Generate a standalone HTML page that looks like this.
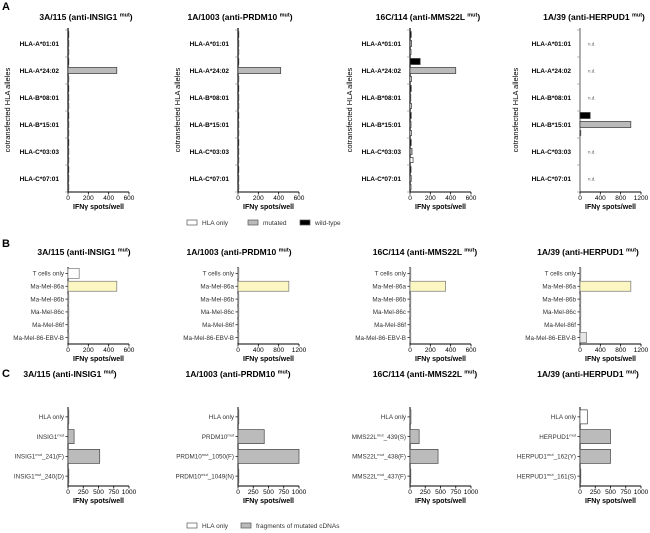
<!DOCTYPE html>
<html><head><meta charset="utf-8"><style>
body{margin:0;background:#fff}
svg{display:block;font-family:"Liberation Sans",Arial,sans-serif}
</style></head><body>
<svg id="fig" width="650" height="533" viewBox="0 0 650 533" xmlns="http://www.w3.org/2000/svg"></svg>
<script>
// ---- data ----
const titles = ["3A/115 (anti-INSIG1","1A/1003 (anti-PRDM10","16C/114 (anti-MMS22L","1A/39 (anti-HERPUD1"];
const hlaAlleles = ["HLA-A*01:01","HLA-A*24:02","HLA-B*08:01","HLA-B*15:01","HLA-C*03:03","HLA-C*07:01"];
const aWild = [[0,0,0,0,0,0],[0,0,0,0,0,0],[12,100,12,12,12,10],[null,null,null,200,null,null]];
const aMut = [[0,480,0,0,0,0],[0,420,0,0,0,5],[15,450,5,10,20,12],[null,null,null,1000,null,null]];
const aOnly = [[0,0,0,0,0,0],[0,0,0,0,0,0],[10,15,15,15,30,10],[null,null,null,10,null,null]];
const aMax = [600,600,600,1200];
const aTicks = [[0,200,400,600],[0,200,400,600],[0,200,400,600],[0,400,800,1200]];
const bCats = ["T cells only","Ma-Mel-86a","Ma-Mel-86b","Ma-Mel-86c","Ma-Mel-86f","Ma-Mel-86-EBV-B"];
const bVals = [[110,480,0,0,0,5],[0,1000,0,0,0,0],[0,350,0,0,0,5],[0,1000,0,0,0,130]];
const bMax = [600,1200,600,1200];
const bTicks = [[0,200,400,600],[0,400,800,1200],[0,200,400,600],[0,400,800,1200]];
const cCats = [["HLA only","INSIG1|_","INSIG1|_241(F)","INSIG1|_240(D)"],
 ["HLA only","PRDM10|_","PRDM10|_1050(F)","PRDM10|_1049(N)"],
 ["HLA only","MMS22L|_439(S)","MMS22L|_438(F)","MMS22L|_437(F)"],
 ["HLA only","HERPUD1|_","HERPUD1|_162(Y)","HERPUD1|_161(S)"]];
const cVals = [[0,100,520,0],[0,430,1000,10],[15,150,460,10],[120,500,500,5]];
const cTicks = [0,250,500,750,1000];
const cMax = 1000;

// ---- layout ----
const NS="http://www.w3.org/2000/svg";
const svg=document.getElementById('fig');
const axisX=[68,238,410,580], axisW=61;
function mk(tag,attrs,parent,text){const e=document.createElementNS(NS,tag);for(const k in attrs)e.setAttribute(k,attrs[k]);if(text!==undefined)e.textContent=text;(parent||svg).appendChild(e);return e;}
function xs(col,max){return v=>axisX[col]+v/max*axisW;}
function title(col,cx,y,name){
  const t=mk('text',{x:cx,y:y,'text-anchor':'middle','font-size':'8.5','font-weight':'bold',fill:'#000'});
  
  
  t.appendChild(document.createTextNode(titles[col]+' '));
  const s=mk('tspan',{'font-size':'5.5',dy:'-3.5'},t,'mut');
  mk('tspan',{dy:'3.5'},t,')');
}
function xAxis(col,max,ticks,y,name){
  const g=mk('g',{});
  
  
  const x=xs(col,max);
  mk('line',{x1:x(0),x2:x(max),y1:y,y2:y,stroke:'#000','stroke-width':1},g);
  ticks.forEach(t=>{mk('line',{x1:x(t),x2:x(t),y1:y,y2:y+2.5,stroke:'#000','stroke-width':0.8},g);
    mk('text',{x:x(t),y:y+8,'font-size':'6.5','text-anchor':'middle'},g,String(t));});
  const lab=mk('text',{x:(x(0)+x(max))/2,y:y+17,'font-size':'7','font-weight':'bold','text-anchor':'middle'},svg,'IFNγ spots/well');
  
  
}
function bar(x0,y,w,h,fill,name,stroke){
  const r=mk('rect',{x:x0,y:y,width:Math.max(w,0.8),height:h,fill:fill,stroke:stroke||'#333','stroke-width':0.7});
  
  
  return r;
}
function panelLetter(l,y){const t=mk('text',{x:2,y:y,'font-size':'11','font-weight':'bold'},svg,l);
  }

// Panel A
panelLetter('A',10);
const aTop=30,aBot=192,aBand=(aBot-aTop)/6;
const aTitleX=[86,240,428,594],aYT=[10,180,352,518];
for(let c=0;c<4;c++){
  title(c,aTitleX[c],20,'panel-a-title-'+(c+1));
  const x=xs(c,aMax[c]);
  mk('line',{x1:axisX[c],x2:axisX[c],y1:aTop-2,y2:aBot,stroke:c==3?'#777':'#000','stroke-width':1.2});
  for(let i=0;i<=6;i++){mk('line',{x1:axisX[c]-3,x2:axisX[c],y1:aTop+i*aBand,y2:aTop+i*aBand,stroke:'#888','stroke-width':0.6});}
  hlaAlleles.forEach((a,i)=>{
    const cy=aTop+(i+0.5)*aBand;
    const l=mk('text',{x:axisX[c]-9,y:cy+2.5,'font-size':'6.5','font-weight':'bold','text-anchor':'end'},svg,a);
    
    if(aMut[c][i]===null){const n=mk('text',{x:axisX[c]+8,y:cy+2,'font-size':'4.5',fill:'#555'},svg,'n.d.');
      return;}
    bar(axisX[c],cy-12,x(aWild[c][i])-axisX[c],6,'#000','bar-wild-type');
    bar(axisX[c],cy-3,x(aMut[c][i])-axisX[c],6,'#bbb','bar-mutated');
    bar(axisX[c],cy+6,x(aOnly[c][i])-axisX[c],5,'#fff','bar-hla-only');
  });
  xAxis(c,aMax[c],aTicks[c],aBot,'panel-a-x-axis-'+(c+1));
  const yt=mk('text',{x:aYT[c],y:110,'font-size':'7.5','text-anchor':'middle',transform:`rotate(-90 ${aYT[c]} 110)`},svg,'cotransfected HLA alleles');
  
}
function legend(y,items){
  let g=mk('g',{});
  items.forEach(it=>{const e=mk('g',{},g);
    mk('rect',{x:it[0],y:y-4,width:10,height:5,fill:it[1],stroke:'#555','stroke-width':0.7},e);
    mk('text',{x:it[0]+15,y:y+1,'font-size':'6.5',fill:'#333'},e,it[2]);});
}
legend(224,[[187,'#fff','HLA only'],[248,'#bbb','mutated'],[300,'#000','wild-type']]);

// Panel B
panelLetter('B',247);
const bTop=267,bBot=344,bBand=(bBot-bTop)/6;
const bTitleX=[84,239,425,588];
for(let c=0;c<4;c++){
  title(c,bTitleX[c],255,'panel-b-title-'+(c+1));
  const x=xs(c,bMax[c]);
  mk('line',{x1:axisX[c],x2:axisX[c],y1:bTop,y2:bBot,stroke:'#000','stroke-width':1});
  bCats.forEach((k,i)=>{
    const cy=bTop+(i+0.5)*bBand;
    mk('line',{x1:axisX[c]-2.5,x2:axisX[c],y1:cy,y2:cy,stroke:'#000','stroke-width':0.7});
    const l=mk('text',{x:axisX[c]-4,y:cy+2.3,'font-size':'6.3','text-anchor':'end',fill:'#333'},svg,k);
    
    const fill=i==1?'#fbf6c2':(i==0?'#fff':'#e6e6e6');
    bar(axisX[c],cy-5,x(bVals[c][i])-axisX[c],10,fill,'bar-'+k.toLowerCase(),'#777');
  });
  xAxis(c,bMax[c],bTicks[c],bBot,'panel-b-x-axis-'+(c+1));
}

// Panel C
panelLetter('C',377);
const cTop=407,cBot=486,cBand=(cBot-cTop)/4;
const cTitleX=[70,238,425,588];
for(let c=0;c<4;c++){
  title(c,cTitleX[c],377,'panel-c-title-'+(c+1));
  const x=xs(c,cMax);
  mk('line',{x1:axisX[c],x2:axisX[c],y1:cTop,y2:cBot,stroke:'#000','stroke-width':1});
  cCats[c].forEach((k,i)=>{
    const cy=cTop+(i+0.5)*cBand;
    mk('line',{x1:axisX[c]-2.5,x2:axisX[c],y1:cy,y2:cy,stroke:'#000','stroke-width':0.7});
    const l=mk('text',{x:axisX[c]-4,y:cy+2.3,'font-size':'6.3','text-anchor':'end',fill:'#333'});
    
    if(k.includes('|')){const p=k.split('|');l.appendChild(document.createTextNode(p[0]));
      mk('tspan',{'font-size':'4',dy:'-2.5'},l,'mut');mk('tspan',{dy:'2.5'},l,p[1]=='_'?'':p[1]);}
    else l.textContent=k;
    bar(axisX[c],cy-7,x(cVals[c][i])-axisX[c],14,i==0?'#fff':'#bbb','bar-construct','#444');
  });
  xAxis(c,cMax,cTicks,cBot,'panel-c-x-axis-'+(c+1));
}
legend(527,[[187,'#fff','HLA only'],[241,'#bbb','fragments of mutated cDNAs']]);
</script>
</body></html>
